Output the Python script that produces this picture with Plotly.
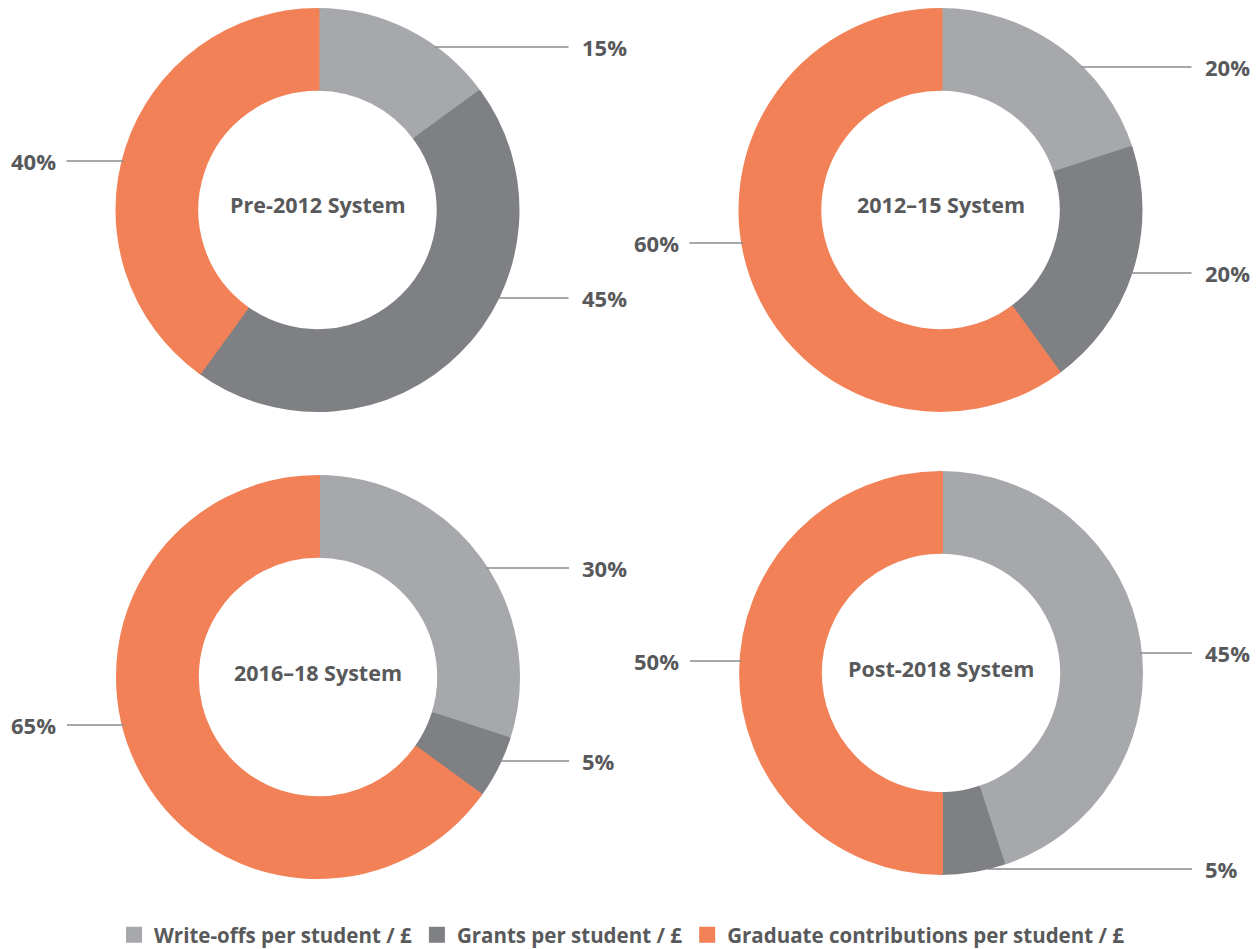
import math
import plotly.graph_objects as go

# page body has a default 8px margin; the figure is sized to fill the rest
OFF = 8
WIN_W, WIN_H = 1258, 949
W, H = WIN_W - OFF, WIN_H - OFF

categories = ["Write-offs per student / £", "Grants per student / £",
              "Graduate contributions per student / £"]
systems = ["Pre-2012 System", "2012–15 System", "2016–18 System", "Post-2018 System"]
pre2012 = [15, 45, 40]
y2012_15 = [20, 20, 60]
y2016_18 = [30, 5, 65]
post2018 = [45, 5, 50]
series = [pre2012, y2012_15, y2016_18, post2018]

colors = ["#A7A8AB", "#7F8084", "#F28157"]
text_color = "#58595B"
FONT = "Open Sans"

# layout: pie centres (window px) and visible outer radius
centres = [(317.5, 210), (940.5, 210), (318, 677), (941, 673)]
R = 202
STROKE = 4                      # same-colour slice outline (also enlarges legend squares)
R_PATH = R - STROKE / 2
HOLE = (R * 0.59 + STROKE / 2) / R_PATH
# label placement per chart: (slice index, y px, side)
label_specs = [
    [(0, 47, "r"), (1, 298, "r"), (2, 161, "l")],
    [(0, 67, "r"), (1, 273, "r"), (2, 243, "l")],
    [(0, 568, "r"), (1, 761, "r"), (2, 725, "l")],
    [(0, 653, "r"), (1, 869, "r"), (2, 661, "l")],
]

def clamp(v):
    return min(max(v, 0.0), 1.0)

def px(x):
    return (x - OFF) / W

def py(y):
    return 1 - (y - OFF) / H

fig = go.Figure()
shapes = []
annotations = []
for k, (vals, name, (cx, cy), specs) in enumerate(zip(series, systems, centres, label_specs)):
    fig.add_trace(go.Pie(
        labels=[f"<b>{c}</b>" for c in categories], values=vals, sort=False,
        direction="clockwise", rotation=0, hole=HOLE, textinfo="none",
        hoverinfo="label+percent",
        marker=dict(colors=colors, line=dict(width=STROKE, color=colors)),
        domain=dict(x=[clamp(px(cx - R_PATH)), clamp(px(cx + R_PATH))],
                    y=[clamp(py(cy + R_PATH)), clamp(py(cy - R_PATH))]),
        showlegend=(k == 0), name=name,
    ))
    annotations.append(dict(x=px(cx), y=py(cy - 5), xref="paper", yref="paper",
                            xanchor="center", yanchor="middle",
                            text=f"<b>{name}</b>", showarrow=False,
                            font=dict(family=FONT, size=21.5, color=text_color)))
    for idx, ylab, side in specs:
        dy = ylab - cy
        edge = math.sqrt(max(R * R - dy * dy, 0)) - 2
        if side == "r":
            x0, x1 = cx + edge, cx + R + 49
            tx, anchor = x1 + 11, "left"
        else:
            x0, x1 = cx - R - 49, cx - edge
            tx, anchor = x0 - 9, "right"
        shapes.append(dict(type="line", xref="paper", yref="paper",
                           x0=px(x0), x1=px(x1), y0=py(ylab), y1=py(ylab),
                           line=dict(color="#8A8B8E", width=1.5), layer="above"))
        annotations.append(dict(x=px(tx), y=py(ylab), xref="paper", yref="paper",
                                xanchor=anchor, yanchor="middle",
                                text=f"<b>{vals[idx]}%</b>", showarrow=False,
                                font=dict(family=FONT, size=22, color=text_color)))

fig.update_layout(
    width=W, height=H, margin=dict(l=0, r=0, t=0, b=0, autoexpand=False),
    paper_bgcolor="white", plot_bgcolor="white",
    shapes=shapes, annotations=annotations,
    legend=dict(orientation="h", x=px(622), xanchor="center", y=py(935), yanchor="middle",
                font=dict(family=FONT, size=20.5, color=text_color),
                itemwidth=30, traceorder="normal"),
)

fig.write_html("out.html")
